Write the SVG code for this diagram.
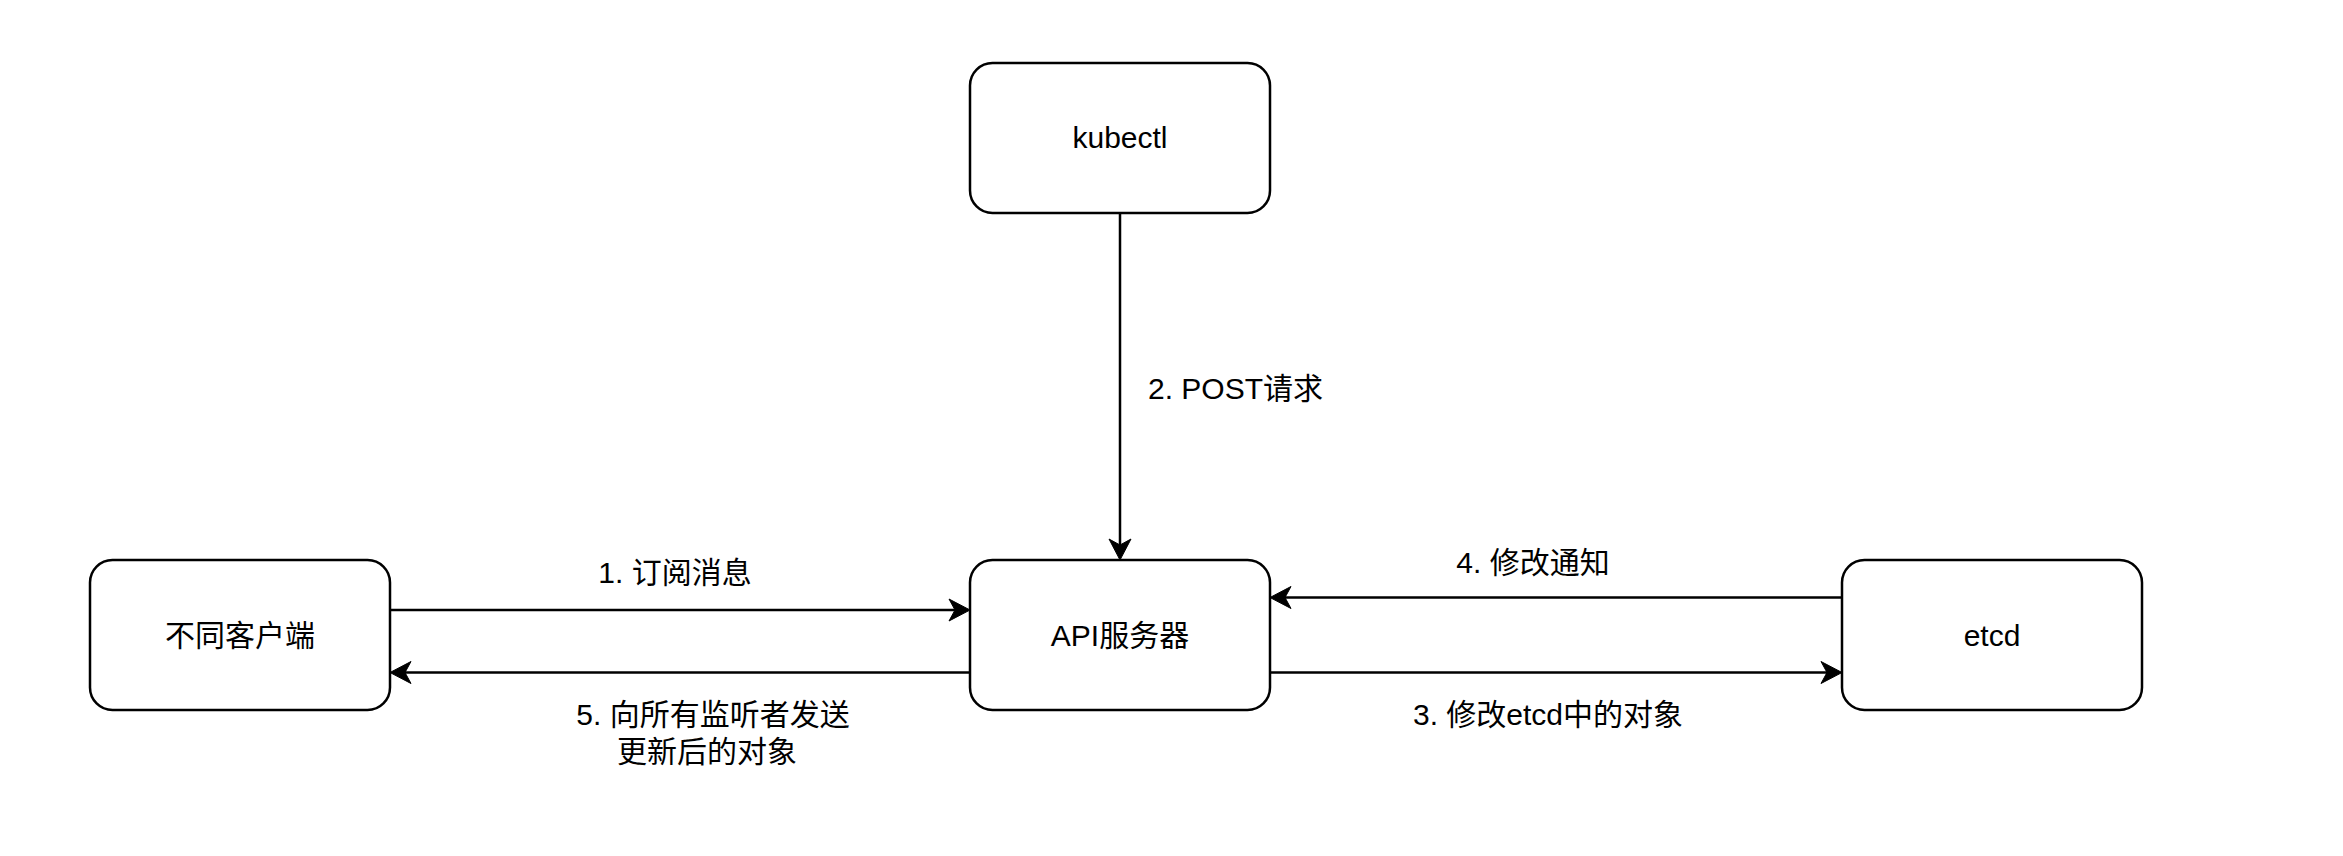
<svg xmlns="http://www.w3.org/2000/svg" width="2343" height="856" viewBox="0 0 2343 856">
  <style>
    .node rect { fill: #ffffff; stroke: #000000; stroke-width: 2.5; }
    text { font-family: "Liberation Sans", "Noto Sans CJK SC", sans-serif; font-size: 30px; fill: #000000; }
    .c { text-anchor: middle; }
    .edge { fill: none; stroke: #000000; stroke-width: 2.5; marker-end: url(#arrow); }
  </style>
  <defs>
    <marker id="arrow" markerUnits="userSpaceOnUse" viewBox="-8 -12 24 24" refX="0" refY="0" markerWidth="24" markerHeight="24" orient="auto">
      <path d="M15,0 L-6,-11 L0,0 L-6,11 Z" fill="#000000" stroke="#000000" stroke-width="1"/>
    </marker>
  </defs>
  <rect width="2343" height="856" fill="#ffffff"/>

  <g id="connectors">
    <path class="edge" d="M390,610 L955,610"/>
    <path class="edge" d="M970,672.5 L405,672.5"/>
    <path class="edge" d="M1120,213 L1120,545"/>
    <path class="edge" d="M1842,597.5 L1285,597.5"/>
    <path class="edge" d="M1270,672.5 L1827,672.5"/>
    <text class="c" x="675" y="583">1. 订阅消息</text>
    <text class="c" x="713" y="725">5. 向所有监听者发送</text>
    <text class="c" x="707" y="762">更新后的对象</text>
    <text x="1148" y="399">2. POST请求</text>
    <text class="c" x="1533" y="573">4. 修改通知</text>
    <text class="c" x="1548" y="725">3. 修改etcd中的对象</text>
  </g>

  <g id="node-kubectl" class="node">
    <rect x="970" y="63" width="300" height="150" rx="22.5" ry="22.5"/>
    <text class="c" x="1120" y="148">kubectl</text>
  </g>
  <g id="node-clients" class="node">
    <rect x="90" y="560" width="300" height="150" rx="22.5" ry="22.5"/>
    <text class="c" x="240" y="646">不同客户端</text>
  </g>
  <g id="node-api" class="node">
    <rect x="970" y="560" width="300" height="150" rx="22.5" ry="22.5"/>
    <text class="c" x="1120" y="646">API服务器</text>
  </g>
  <g id="node-etcd" class="node">
    <rect x="1842" y="560" width="300" height="150" rx="22.5" ry="22.5"/>
    <text class="c" x="1992" y="646">etcd</text>
  </g>
</svg>
